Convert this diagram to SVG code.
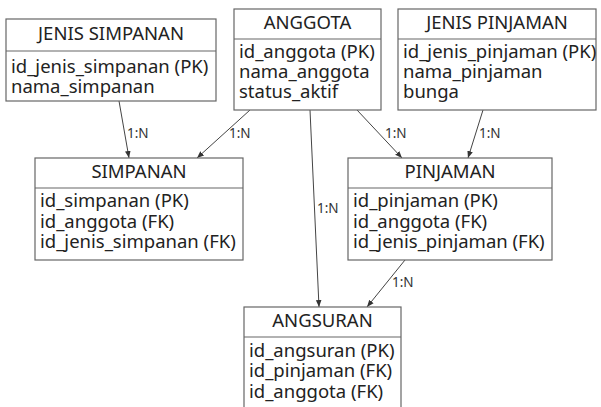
<svg xmlns="http://www.w3.org/2000/svg" width="601" height="407" viewBox="0 0 601 407">
<style>
.box{fill:#fff;stroke:#666;stroke-width:1.2}
.div{stroke:#666;stroke-width:1.2}
.h{font-family:"Noto Sans","Open Sans",sans-serif;font-size:18.5px;fill:#222;text-anchor:middle}
.a{font-family:"Noto Sans","Open Sans",sans-serif;font-size:18.5px;fill:#222}
.c{stroke:#444;stroke-width:1;fill:none;marker-end:url(#arr)}
.l{font-family:"Noto Sans","Open Sans",sans-serif;font-size:13.5px;fill:#333}
</style>
<defs>
<marker id="arr" viewBox="0 0 10 10" refX="10" refY="5" markerWidth="7" markerHeight="7" orient="auto" markerUnits="userSpaceOnUse">
<path d="M0,1 L10,5 L0,9 z" fill="#333"/>
</marker>
</defs>
<rect width="601" height="407" fill="#fff"/>
<g id="connectors">
<line class="c" x1="119" y1="101" x2="129" y2="158"/>
<line class="c" x1="250" y1="110" x2="197" y2="158"/>
<line class="c" x1="357" y1="110" x2="402" y2="158"/>
<line class="c" x1="310" y1="110" x2="319" y2="307"/>
<line class="c" x1="483" y1="110" x2="468" y2="158"/>
<line class="c" x1="405" y1="260" x2="367" y2="307"/>
<text class="l" x="127" y="138">1:N</text>
<text class="l" x="229" y="138">1:N</text>
<text class="l" x="385" y="138">1:N</text>
<text class="l" x="317" y="213">1:N</text>
<text class="l" x="479" y="138">1:N</text>
<text class="l" x="392" y="287">1:N</text>
</g>
<g id="jenis_simpanan">
<rect class="box" x="6" y="19" width="210" height="82"/>
<line class="div" x1="6" y1="51" x2="216" y2="51"/>
<text class="h" x="111" y="40">JENIS SIMPANAN</text>
<text class="a" x="11" y="73">id_jenis_simpanan (PK)</text>
<text class="a" x="11" y="93">nama_simpanan</text>
</g>
<g id="anggota">
<rect class="box" x="234" y="9" width="147" height="101"/>
<line class="div" x1="234" y1="39" x2="381" y2="39"/>
<text class="h" x="307.5" y="29">ANGGOTA</text>
<text class="a" x="239" y="58">id_anggota (PK)</text>
<text class="a" x="239" y="78">nama_anggota</text>
<text class="a" x="239" y="98">status_aktif</text>
</g>
<g id="jenis_pinjaman">
<rect class="box" x="398" y="9" width="198" height="101"/>
<line class="div" x1="398" y1="39" x2="596" y2="39"/>
<text class="h" x="497" y="29">JENIS PINJAMAN</text>
<text class="a" x="403" y="58">id_jenis_pinjaman (PK)</text>
<text class="a" x="403" y="78">nama_pinjaman</text>
<text class="a" x="403" y="98">bunga</text>
</g>
<g id="simpanan">
<rect class="box" x="35" y="158" width="208" height="102"/>
<line class="div" x1="35" y1="188" x2="243" y2="188"/>
<text class="h" x="139" y="178">SIMPANAN</text>
<text class="a" x="40" y="207">id_simpanan (PK)</text>
<text class="a" x="40" y="227.5">id_anggota (FK)</text>
<text class="a" x="40" y="248">id_jenis_simpanan (FK)</text>
</g>
<g id="pinjaman">
<rect class="box" x="348" y="158" width="204" height="102"/>
<line class="div" x1="348" y1="188" x2="552" y2="188"/>
<text class="h" x="450" y="178">PINJAMAN</text>
<text class="a" x="353" y="207">id_pinjaman (PK)</text>
<text class="a" x="353" y="227.5">id_anggota (FK)</text>
<text class="a" x="353" y="248">id_jenis_pinjaman (FK)</text>
</g>
<g id="angsuran">
<rect class="box" x="244" y="307" width="157" height="110"/>
<line class="div" x1="244" y1="337" x2="401" y2="337"/>
<text class="h" x="322.5" y="327">ANGSURAN</text>
<text class="a" x="249" y="357">id_angsuran (PK)</text>
<text class="a" x="249" y="377">id_pinjaman (FK)</text>
<text class="a" x="249" y="398">id_anggota (FK)</text>
</g>
</svg>
